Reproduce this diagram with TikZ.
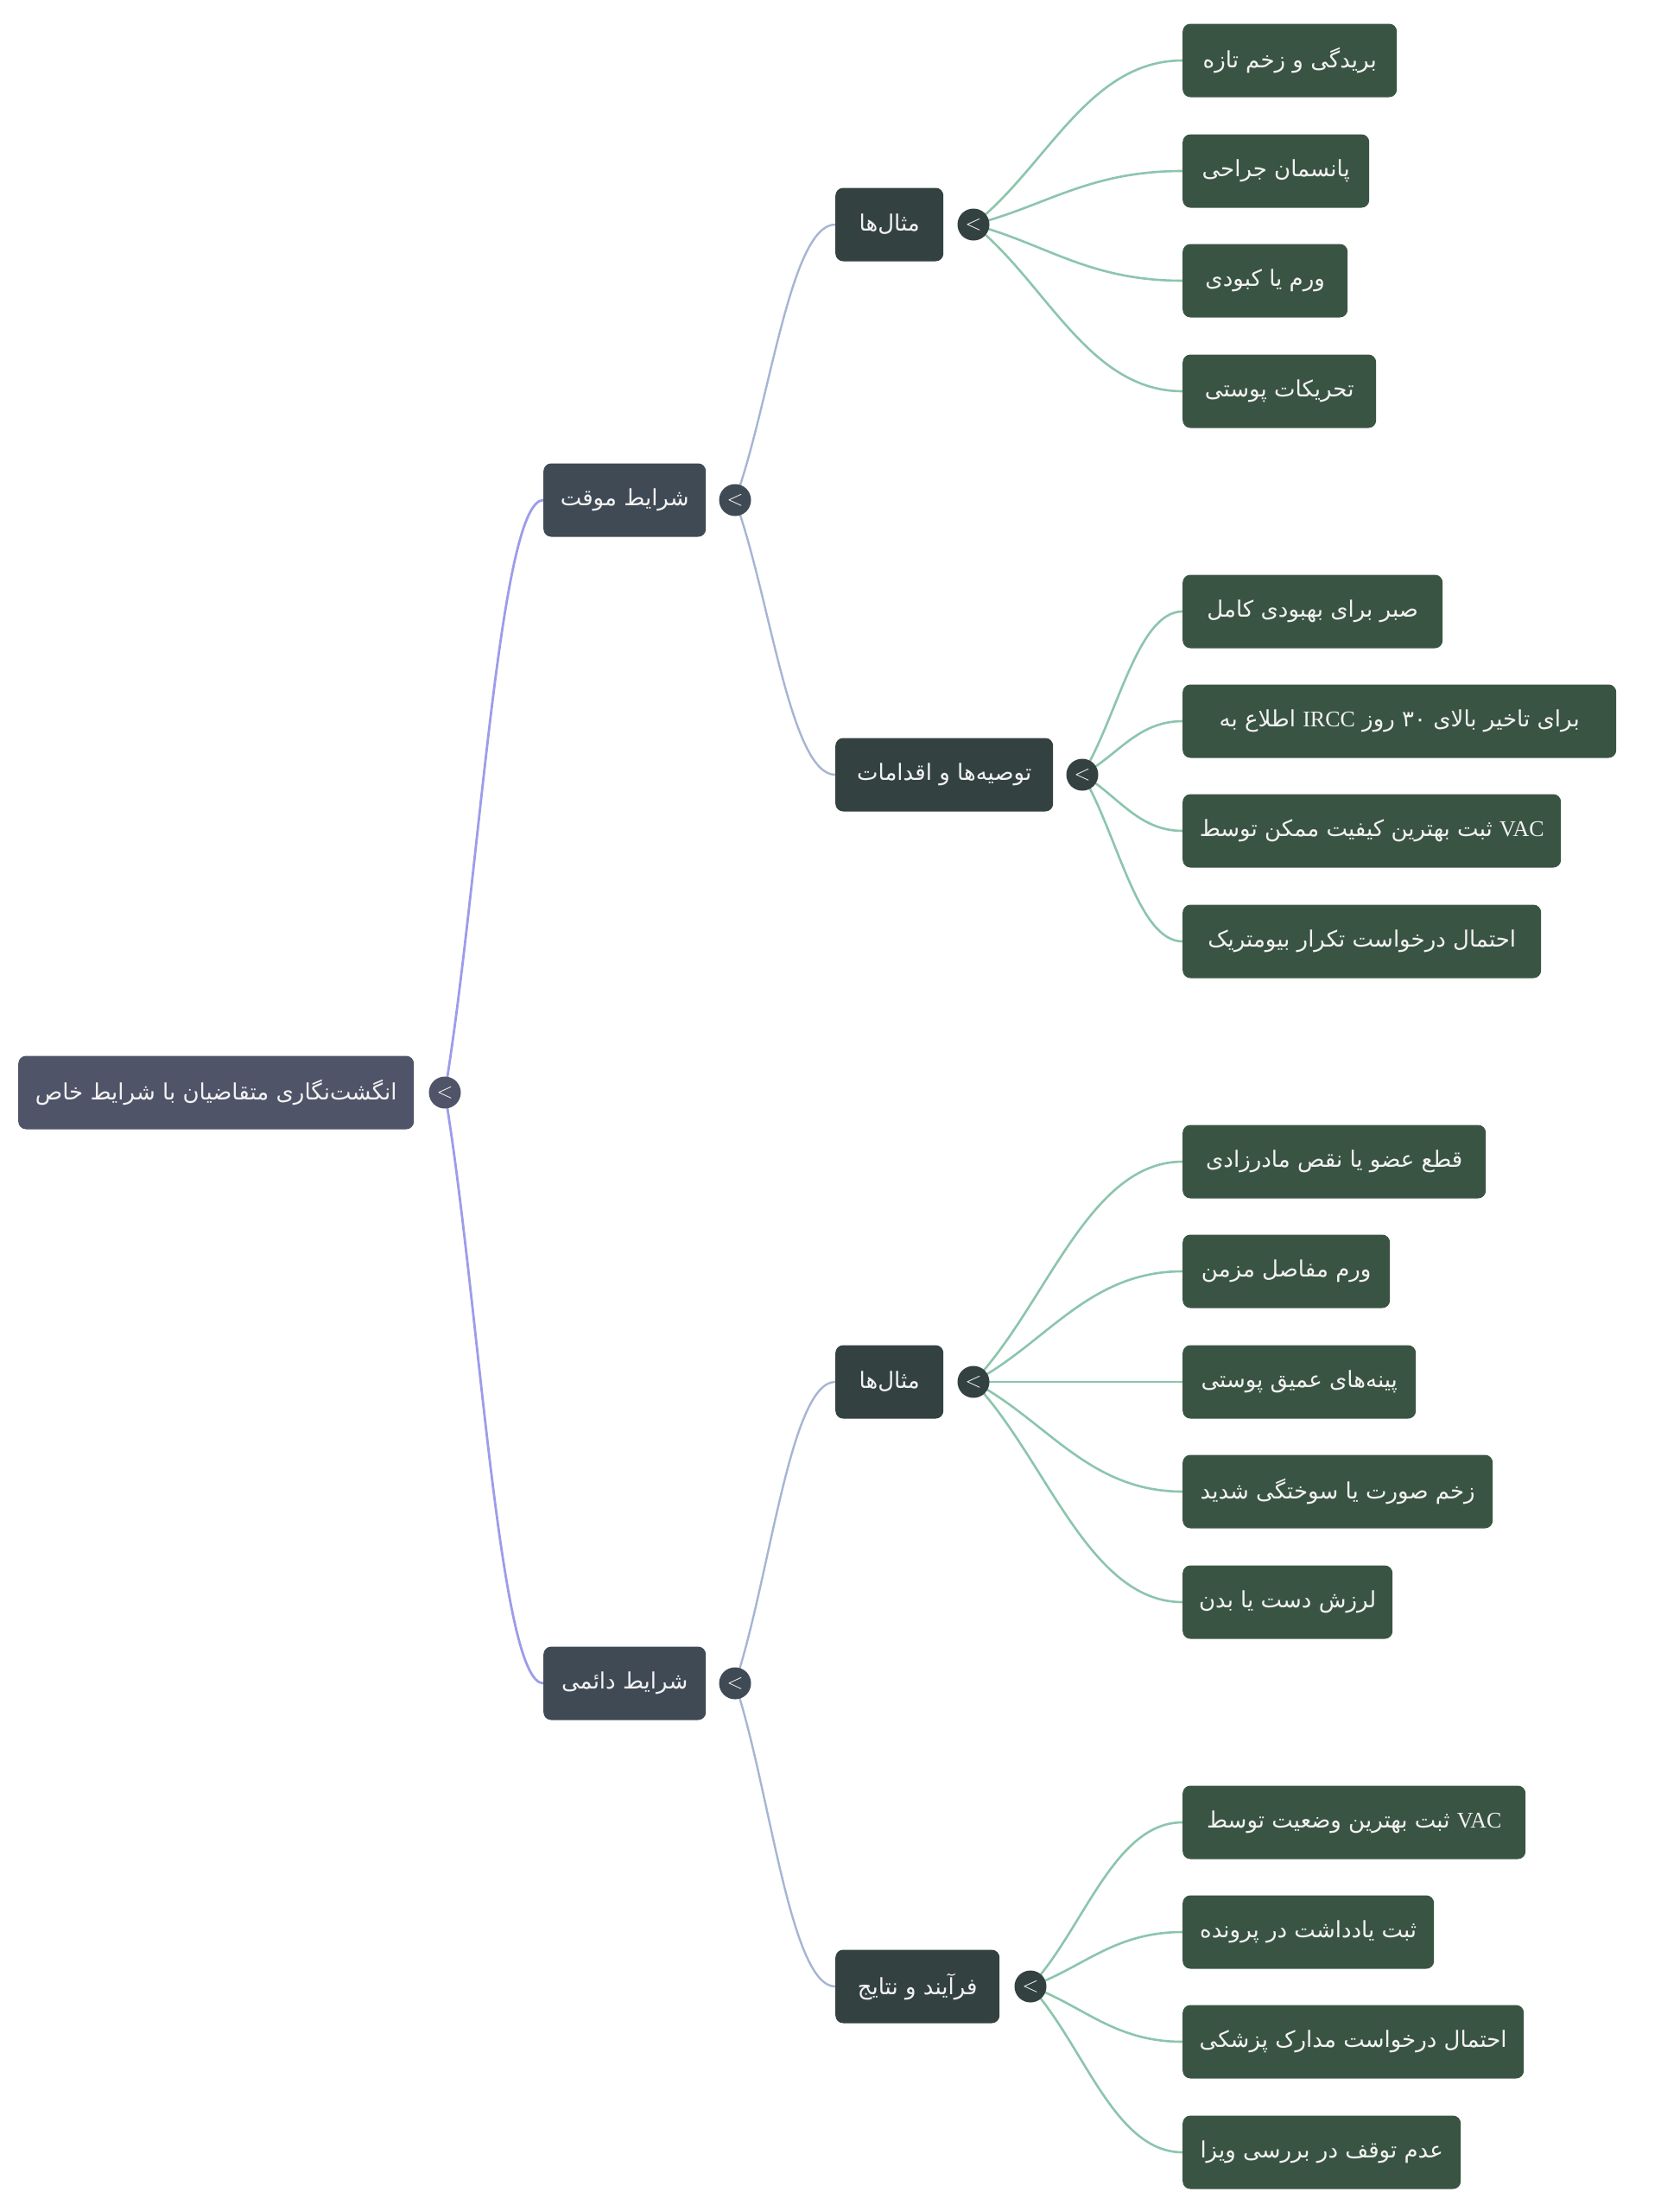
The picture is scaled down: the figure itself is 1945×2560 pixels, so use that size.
\documentclass[tikz,border=0pt]{standalone}
\usepackage{fontspec}
\usepackage{tikz}
\usetikzlibrary{calc}
\setmainfont{Liberation Serif}
\newfontfamily\fa[Script=Arabic]{DejaVu Sans}
\TeXXeTstate=1

\definecolor{rootc}{HTML}{505468}
\definecolor{onec}{HTML}{3F4A55}
\definecolor{twoc}{HTML}{334240}
\definecolor{leafc}{HTML}{3A5443}
\definecolor{rootln}{HTML}{9D9CEA}
\definecolor{oneln}{HTML}{A7B5D3}
\definecolor{twoln}{HTML}{8CC5AD}

\pgfdeclarelayer{bg}
\pgfsetlayers{bg,main}

\newcommand{\mmlink}[3][]{%
  \draw[#1] let \p1=(#2), \p2=(#3) in (\p1)
    .. controls ({\x1+0.35*(\x2-\x1)},{\y1+0.35*(\y2-\y1)})
    and ({\x1+0.55*(\x2-\x1)},\y2) .. (\p2);}

\tikzset{
  box/.style={rectangle, rounded corners=9pt, anchor=west, minimum height=85pt,
    inner sep=0pt, text=white!95!black, font=\fa\fontsize{26}{30}\selectfont},
  rootbox/.style={box, fill=rootc, minimum width=#1},
  onebox/.style={box, fill=onec, minimum width=#1},
  twobox/.style={box, fill=twoc, minimum width=#1},
  leafbox/.style={box, fill=leafc, minimum width=#1},
  tog/.style={circle, minimum size=37pt, inner sep=0pt, fill=#1, text=white,
    font=\fontsize{30}{30}\selectfont},
  rootedge/.style={rootln, line width=2.8pt},
  oneedge/.style={oneln, line width=2.4pt},
  twoedge/.style={twoln, line width=2.6pt}
}

\begin{document}
\begin{tikzpicture}[x=1pt, y=-1pt]
    \useasboundingbox (0,0) rectangle (1945,2560);

    \node[rootbox=458pt] (root) at (21,1265) {\beginR انگشت‌نگاری متقاضیان با شرایط خاص\endR};
    \node[tog=rootc] (rootT) at (515,1265) {$<$};

    \node[onebox=188pt] (tmp) at (629,579) {\beginR شرایط موقت\endR};
    \node[tog=onec] (tmpT) at (851,579) {$<$};
    \node[onebox=188pt] (prm) at (629,1949) {\beginR شرایط دائمی\endR};
    \node[tog=onec] (prmT) at (851,1949) {$<$};

    \node[twobox=125pt] (exA) at (967,260) {\beginR مثال‌ها\endR};
    \node[tog=twoc] (exAT) at (1127,260) {$<$};
    \node[twobox=252pt] (recB) at (967,897) {\beginR توصیه‌ها و اقدامات\endR};
    \node[tog=twoc] (recBT) at (1253,897) {$<$};
    \node[twobox=125pt] (exC) at (967,1600) {\beginR مثال‌ها\endR};
    \node[tog=twoc] (exCT) at (1127,1600) {$<$};
    \node[twobox=190pt] (prcD) at (967,2300) {\beginR فرآیند و نتایج\endR};
    \node[tog=twoc] (prcDT) at (1193,2300) {$<$};

    \node[leafbox=248pt] (a1) at (1369,70) {\beginR بریدگی و زخم تازه\endR};
    \node[leafbox=216pt] (a2) at (1369,198) {\beginR پانسمان جراحی\endR};
    \node[leafbox=191pt] (a3) at (1369,325) {\beginR ورم یا کبودی\endR};
    \node[leafbox=224pt] (a4) at (1369,453) {\beginR تحریکات پوستی\endR};

    \node[leafbox=301pt] (b1) at (1369,708) {\beginR صبر برای بهبودی کامل\endR};
    \node[leafbox=502pt] (b2) at (1369,835) {\beginR اطلاع به\endR{} {\rmfamily IRCC} \beginR برای تاخیر بالای ۳۰ روز\endR};
    \node[leafbox=438pt] (b3) at (1369,962) {\beginR ثبت بهترین کیفیت ممکن توسط\endR{} {\rmfamily VAC}};
    \node[leafbox=415pt] (b4) at (1369,1090) {\beginR احتمال درخواست تکرار بیومتریک\endR};

    \node[leafbox=351pt] (c1) at (1369,1345) {\beginR قطع عضو یا نقص مادرزادی\endR};
    \node[leafbox=240pt] (c2) at (1369,1472) {\beginR ورم مفاصل مزمن\endR};
    \node[leafbox=270pt] (c3) at (1369,1600) {\beginR پینه‌های عمیق پوستی\endR};
    \node[leafbox=359pt] (c4) at (1369,1727) {\beginR زخم صورت یا سوختگی شدید\endR};
    \node[leafbox=243pt] (c5) at (1369,1855) {\beginR لرزش دست یا بدن\endR};

    \node[leafbox=397pt] (d1) at (1369,2110) {\beginR ثبت بهترین وضعیت توسط\endR{} {\rmfamily VAC}};
    \node[leafbox=291pt] (d2) at (1369,2237) {\beginR ثبت یادداشت در پرونده\endR};
    \node[leafbox=395pt] (d3) at (1369,2364) {\beginR احتمال درخواست مدارک پزشکی\endR};
    \node[leafbox=322pt] (d4) at (1369,2492) {\beginR عدم توقف در بررسی ویزا\endR};

    \begin{pgfonlayer}{bg}
    \fill[white] (0,0) rectangle (1945,2560);
    \mmlink[rootedge]{rootT.center}{tmp.west}
    \mmlink[rootedge]{rootT.center}{prm.west}
    \mmlink[oneedge]{tmpT.center}{exA.west}
    \mmlink[oneedge]{tmpT.center}{recB.west}
    \mmlink[oneedge]{prmT.center}{exC.west}
    \mmlink[oneedge]{prmT.center}{prcD.west}
    \foreach \lf in {a1,a2,a3,a4} {\mmlink[twoedge]{exAT.center}{\lf.west}}
    \foreach \lf in {b1,b2,b3,b4} {\mmlink[twoedge]{recBT.center}{\lf.west}}
    \foreach \lf in {c1,c2,c3,c4,c5} {\mmlink[twoedge]{exCT.center}{\lf.west}}
    \foreach \lf in {d1,d2,d3,d4} {\mmlink[twoedge]{prcDT.center}{\lf.west}}
    \end{pgfonlayer}
\end{tikzpicture}
\end{document}
